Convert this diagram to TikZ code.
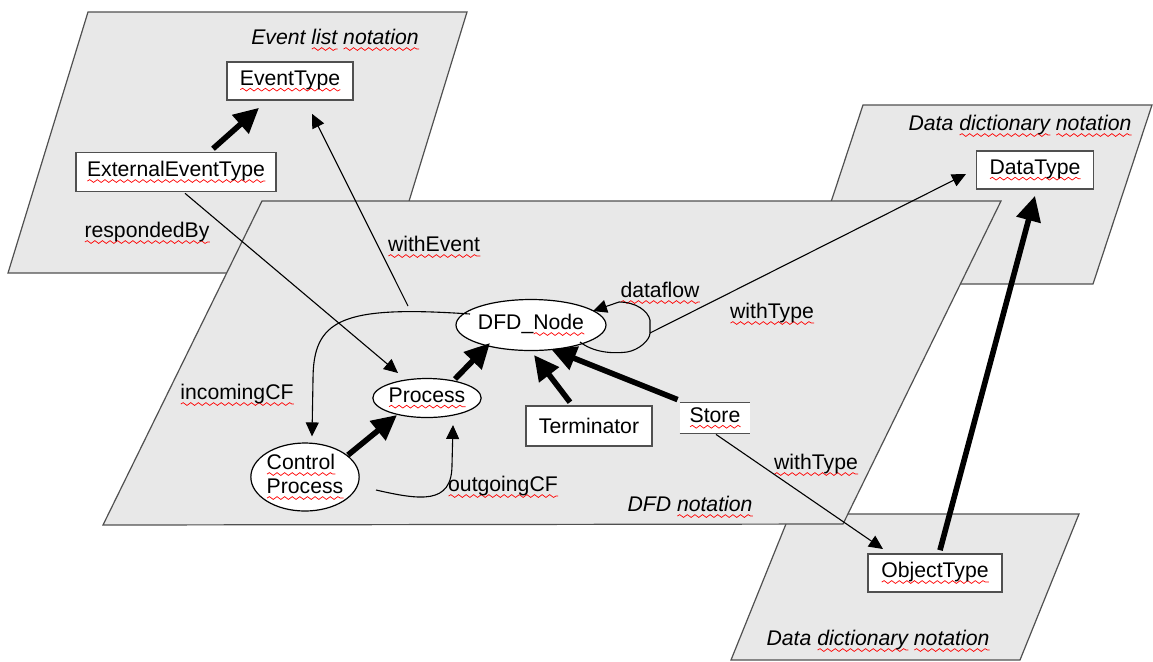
\documentclass[tikz,border=0pt]{standalone}
\usepackage{fontspec}
\setmainfont{Liberation Sans}
\usetikzlibrary{arrows.meta,shapes.geometric,calc,decorations.pathmorphing}
\definecolor{planegray}{HTML}{E8E8E8}
\definecolor{edgegray}{HTML}{505050}
% red wavy underline (spell-check style)
\newlength\sqlen
\newcommand\sq[1]{\settowidth\sqlen{#1}\leavevmode\rlap{\raisebox{-3.1pt}{\tikz[x=1pt,y=1pt]\draw[red,line width=0.35pt,decorate,decoration={snake,amplitude=0.7pt,segment length=3.8pt}] (0,0) -- (\sqlen,0);}}#1}

\tikzset{
  plane/.style={fill=planegray,draw=edgegray,line width=0.6pt},
  box/.style={draw=edgegray,fill=white,line width=0.8pt,inner sep=0pt},
  oval/.style={ellipse,draw=black,fill=white,line width=0.6pt,inner sep=0pt},
  lbl/.style={inner sep=0pt},
  ital/.style={inner sep=0pt,font=\fontsize{10.6pt}{12pt}\selectfont\itshape},
  link/.style={line width=0.55pt,-{Triangle[length=7pt,width=6.5pt]}},
  gen/.style={line width=2.8pt,-{Triangle[length=12.5pt,width=12pt]}},
  storeline/.style={draw=edgegray,line width=0.8pt},
}

\begin{document}
\begin{tikzpicture}[x=0.5pt,y=-0.5pt,font=\fontsize{10.6pt}{12pt}\selectfont]
\useasboundingbox (0,0) rectangle (1153,661);
\fill[white] (0,0) rectangle (1153,661);

% notation planes
\draw[plane] (88,12) -- (467,12) -- (387,273) -- (8,273) -- cycle;
\draw[plane] (863,105) -- (1152,105) -- (1093,284) -- (804,284) -- cycle;
\draw[plane] (790,514) -- (1079,514) -- (1020,660) -- (731,660) -- cycle;
\draw[plane] (262,201) -- (1001,201) -- (843,524) -- (103,525) -- cycle;

% plane titles
\node[ital] (tev) at (335,40) {Event \sq{list} \sq{notation}};
\node[ital] (tdd1) at (1020,126) {Data \sq{dictionary} \sq{notation}};
\node[ital] (tdd2) at (878,641) {Data \sq{dictionary} \sq{notation}};
\node[ital] (tdfd) at (690,507) {DFD \sq{notation}};

% classes
\node[box,minimum width=63pt,minimum height=19pt] (evt) at (290,81) {\sq{EventType}};
\node[box,minimum width=100pt,minimum height=19.5pt] (ext) at (176,172) {\sq{ExternalEventType}};
\node[box,minimum width=58.5pt,minimum height=19pt] (dt) at (1035,170) {\sq{DataType}};
\node[box,minimum width=67pt,minimum height=19pt] (obj) at (935,573) {\sq{ObjectType}};
\node[oval,minimum width=63pt,minimum height=25.5pt] (dfd) at (531,325) {DFD\_\sq{Node}};
\node[oval,minimum width=52pt,minimum height=19.5pt] (proc) at (427,398) {\sq{Process}};
\node[oval,minimum width=53pt,minimum height=34pt,align=left] (cp) at (305,477) {\sq{Control}\\\sq{Process}};
\node[box,minimum width=63pt,minimum height=20pt] (term) at (589,426) {Terminator};
\node[fill=white,inner sep=0pt,minimum width=35pt,minimum height=15pt] (store) at (715,418) {\sq{Store}\hspace{5pt}};
\draw[storeline] (store.north west) -- (store.north east) (store.south west) -- (store.south east);

% association labels
\node[lbl] (lrb) at (147,233) {\sq{respondedBy}};
\node[lbl] (lwe) at (434,247) {\sq{withEvent}};
\node[lbl] (lin) at (237,395) {\sq{incomingCF}};
\node[lbl] (lout) at (503,487) {\sq{outgoingCF}};
\node[lbl] (ldf) at (660,293) {\sq{dataflow}};
\node[lbl] (lwt1) at (772,314) {\sq{withType}};
\node[lbl] (lwt2) at (816,465) {\sq{withType}};

% generalisations
\draw[gen] ($(ext.north)+(37,-3)$) -- ($(evt.south)+(-31,7)$);
\draw[gen] ($(cp)+(43,-22)$) -- ($(proc)+(-30,17)$);
\draw[gen] ($(proc)+(28,-19)$) -- ($(dfd)+(-41,18)$);
\draw[gen] ($(term.north)+(-19,-3)$) -- ($(dfd)+(3,30)$);
\draw[gen] ($(store.north west)+(-2,-3)$) -- ($(dfd)+(20,24)$);
\draw[gen] ($(obj.north)+(5,-3)$) -- ($(dt.south)+(0,6)$);

% associations
\coordinate (we) at (408,306);
\coordinate (lp) at ($(dfd)+(119,8)$);
\draw[link] (we) -- ($(evt.south)+(22,13)$);
\draw[link] ($(ext.south)+(9,1)$) -- ($(proc)+(-29,-25)$);
\draw[link] ($(dfd)+(-61,-11)$) .. controls (340,305) and (313,320) .. (313,380) -- ($(cp.north)+(7,-6)$);
\draw[link] ($(cp)+(71,13)$) .. controls (420,500) and (452,505) .. (452,465) -- ($(proc)+(26,27)$);
\draw[link] ($(dfd)+(49,17)$) .. controls ($(dfd)+(62,27)$) and ($(dfd)+(80,29)$) .. ($(dfd)+(96,27)$)
  .. controls ($(dfd)+(108,25)$) and ($(dfd)+(119,15)$) .. (lp) -- ($(dfd)+(119,-5)$)
  .. controls ($(dfd)+(117,-14)$) and ($(dfd)+(105,-23)$) .. ($(dfd)+(88,-23)$) -- ($(dfd)+(62,-14)$);
\draw[link] (lp) -- ($(dt)+(-69,4)$);
\draw[link] ($(store.south)+(1,1)$) -- ($(obj)+(-52,-24)$);
\end{tikzpicture}
\end{document}
